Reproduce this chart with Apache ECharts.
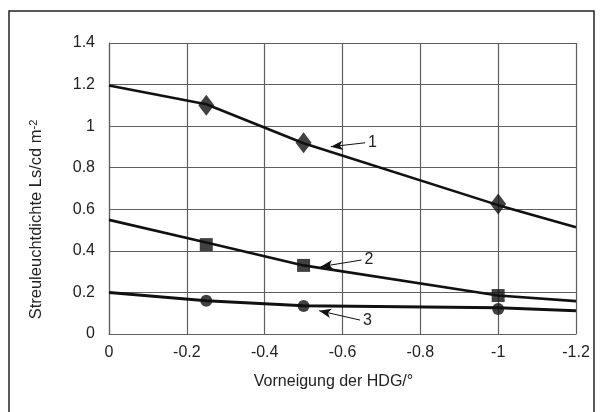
<!DOCTYPE html>
<html>
<head>
<meta charset="utf-8">
<script src="https://cdn.jsdelivr.net/npm/echarts@6/dist/echarts.min.js"></script>
<style>
  html, body { margin: 0; padding: 0; background: #fff; }
  #chart { width: 602px; height: 412px; }
</style>
</head>
<body>
<div id="chart"></div>
<script>
// measured points (markers)
var xPoints = [-0.25, -0.5, -1];
var diamonds = [1.10, 0.92, 0.625];
var squares = [0.43, 0.33, 0.185];
var circles = [0.16, 0.135, 0.12];

// fitted curves
var fitX = [0, -0.25, -0.5, -1, -1.2];
var fit1 = [1.196, 1.105, 0.918, 0.62, 0.513];
var fit2 = [0.549, 0.44, 0.33, 0.185, 0.158];
var fit3 = [0.2, 0.16, 0.136, 0.126, 0.112];

// arrow annotations: label, tail, tip (data units)
var arrowLabels = ["1", "2", "3"];
var arrowTails = [[-0.658, 0.92], [-0.649, 0.356], [-0.645, 0.067]];
var arrowTips = [[-0.57, 0.901], [-0.544, 0.324], [-0.54, 0.112]];

var xTicks = { min: -1.2, max: 0, interval: 0.2 };
var yTicks = { min: 0, max: 1.4, interval: 0.2 };

function pairs(xs, ys) {
  return xs.map(function (x, i) { return [x, ys[i]]; });
}

function arrow(i) {
  return [
    { coord: arrowTails[i], symbol: "none",
      label: { show: true, position: "start", formatter: arrowLabels[i] } },
    { coord: arrowTips[i], symbol: "arrow" }
  ];
}

var chart = echarts.init(document.getElementById("chart"));
var font = "Liberation Sans, Arial, sans-serif";

chart.setOption({
  animation: false,
  textStyle: { fontFamily: font },
  grid: { left: 109, right: 26, top: 43, bottom: 78 },
  graphic: [{
    type: "rect",
    shape: { x: 9, y: 11, width: 585, height: 430 },
    style: { fill: "none", stroke: "#222", lineWidth: 1.5 },
    z: -1
  }],
  xAxis: {
    type: "value",
    inverse: true,
    min: xTicks.min,
    max: xTicks.max,
    interval: xTicks.interval,
    name: "Vorneigung der HDG/°",
    nameLocation: "middle",
    nameGap: 40,
    nameTextStyle: { color: "#222", fontSize: 16, padding: [0, 18, 0, 0] },
    axisLine: { lineStyle: { color: "#5f5f5f", width: 1.2 } },
    axisTick: { show: false },
    axisLabel: { color: "#222", fontSize: 16, margin: 11 },
    splitLine: { show: true, lineStyle: { color: "#5f5f5f", width: 1.2 } }
  },
  yAxis: {
    type: "value",
    min: yTicks.min,
    max: yTicks.max,
    interval: yTicks.interval,
    name: "Streuleuchtdichte Ls/cd m{sup|-2}",
    nameLocation: "middle",
    nameGap: 64,
    nameTextStyle: {
      color: "#222", fontSize: 16.5, padding: [0, 62, 0, 0],
      rich: { sup: { fontSize: 11, verticalAlign: "top", lineHeight: 12, padding: [0, 0, 8, 0] } }
    },
    axisLine: { show: true, lineStyle: { color: "#5f5f5f", width: 1.2 } },
    axisTick: { show: false },
    axisLabel: { color: "#222", fontSize: 16, margin: 14 },
    splitLine: { show: true, lineStyle: { color: "#5f5f5f", width: 1.2 } }
  },
  series: [
    {
      type: "line", data: pairs(fitX, fit1), showSymbol: false,
      lineStyle: { color: "#111", width: 2.6 },
      markLine: {
        silent: true, symbolSize: [7, 12],
        lineStyle: { color: "#111", width: 1, type: "solid" },
        label: { color: "#222", fontSize: 16, distance: 3 },
        data: [arrow(0), arrow(1), arrow(2)]
      }
    },
    {
      type: "line", data: pairs(fitX, fit2), showSymbol: false,
      lineStyle: { color: "#111", width: 2.6 }
    },
    {
      type: "line", data: pairs(fitX, fit3), showSymbol: false,
      lineStyle: { color: "#111", width: 3 }
    },
    {
      type: "scatter", data: pairs(xPoints, diamonds),
      symbol: "diamond", symbolSize: [16, 21],
      itemStyle: { color: "#111" }
    },
    {
      type: "scatter", data: pairs(xPoints, squares),
      symbol: "rect", symbolSize: 13,
      itemStyle: { color: "#111" }
    },
    {
      type: "scatter", data: pairs(xPoints, circles),
      symbol: "circle", symbolSize: 12,
      itemStyle: { color: "#111" }
    }
  ]
});
</script>
</body>
</html>
